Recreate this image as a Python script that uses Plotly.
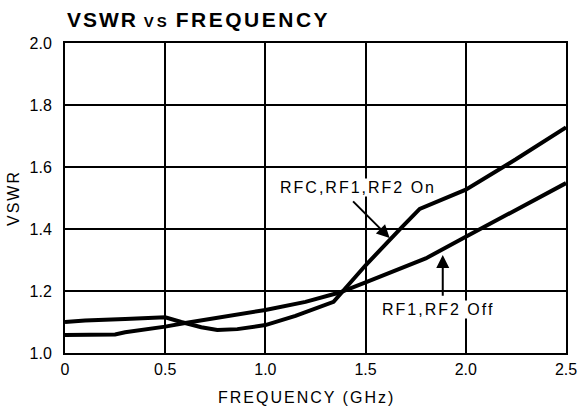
import plotly.graph_objects as go

# ---- data ----
freq_on = [0, 0.1, 0.3, 0.5, 0.58, 0.68, 0.76, 0.86, 1.0, 1.15, 1.34, 1.5, 1.68, 1.77, 2.0, 2.25, 2.5]
vswr_on = [1.10, 1.105, 1.11, 1.115, 1.10, 1.083, 1.074, 1.077, 1.09, 1.12, 1.165, 1.283, 1.405, 1.465, 1.527, 1.625, 1.728]

freq_off = [0, 0.25, 0.3, 0.4, 0.5, 0.6, 0.8, 1.0, 1.2, 1.37, 1.5, 1.8, 2.0, 2.25, 2.5]
vswr_off = [1.058, 1.06, 1.067, 1.075, 1.085, 1.097, 1.117, 1.139, 1.165, 1.195, 1.228, 1.305, 1.375, 1.46, 1.548]

x_tickvals = [0, 0.5, 1.0, 1.5, 2.0, 2.5]
x_ticktext = ["0", "0.5", "1.0", "1.5", "2.0", "2.5"]
y_tickvals = [1.0, 1.2, 1.4, 1.6, 1.8, 2.0]
y_ticktext = ["1.0", "1.2", "1.4", "1.6", "1.8", "2.0"]

FONT = "Liberation Sans, Arial, sans-serif"
W, H = 582, 406
ML, MR, MT, MB = 65, 16, 43, 53

def spaced(t, px):
    return f"<span style='letter-spacing:{px}px'>{t}</span>"

fig = go.Figure()
fig.add_trace(go.Scatter(x=freq_on, y=vswr_on, mode="lines", name="RFC,RF1,RF2 On",
                         line=dict(color="black", width=4), showlegend=False))
fig.add_trace(go.Scatter(x=freq_off, y=vswr_off, mode="lines", name="RF1,RF2 Off",
                         line=dict(color="black", width=4), showlegend=False))

fig.update_layout(
    width=W, height=H,
    margin=dict(l=ML, r=MR, t=MT, b=MB, autoexpand=False),
    paper_bgcolor="white", plot_bgcolor="white",
    font=dict(family=FONT, color="black", size=16),
    title=dict(
        text=spaced("VSWR", 2) + " " + "<span style='font-size:15px;letter-spacing:3px'>VS</span>" + " " + spaced("FREQUENCY", 2.5),
        font=dict(family=FONT, size=21, color="black", weight="bold"),
        xref="container", x=67/W, xanchor="left",
        yref="container", y=1 - 20/H, yanchor="middle",
        pad=dict(l=0, r=0, t=0, b=0),
    ),
    xaxis=dict(
        range=[0, 2.5], tickvals=x_tickvals, ticktext=x_ticktext,
        showgrid=True, gridcolor="black", gridwidth=2,
        showline=True, linecolor="black", linewidth=2, mirror=True,
        zeroline=False, ticks="", ticklabelstandoff=1, automargin=False,
        tickfont=dict(size=16),
    ),
    yaxis=dict(
        range=[1.0, 2.0], tickvals=y_tickvals, ticktext=y_ticktext,
        showgrid=True, gridcolor="black", gridwidth=2,
        showline=True, linecolor="black", linewidth=2, mirror=True,
        zeroline=False, ticks="", ticklabelstandoff=8, automargin=False,
        tickfont=dict(size=16),
    ),
)

PW, PH = W - ML - MR, H - MT - MB
# axis titles
fig.add_annotation(xref="x domain", yref="y domain", x=(306 - ML) / PW, y=(H - MB - 397) / PH,
                   text=spaced("FREQUENCY (GHz)", 2), showarrow=False, font=dict(size=16),
                   xanchor="center", yanchor="middle")
fig.add_annotation(xref="x domain", yref="y domain", x=(13 - ML) / PW, y=0.5,
                   text=spaced("VSWR", 2), textangle=-90, showarrow=False, font=dict(size=16),
                   xanchor="center", yanchor="middle")

# labels with white background
fig.add_annotation(x=1.46, y=1.535, xref="x", yref="y", text=spaced("RFC,RF1,RF2 On", 2),
                   showarrow=False, bgcolor="white", font=dict(size=16), borderpad=0)
fig.add_annotation(x=1.86, y=1.139, xref="x", yref="y", text=spaced("RF1,RF2 Off", 2),
                   showarrow=False, bgcolor="white", font=dict(size=16), borderpad=0)

# arrows
fig.add_annotation(x=1.62, y=1.371, xref="x", yref="y", ax=1.43, ay=1.494, axref="x", ayref="y",
                   text="", showarrow=True, arrowhead=2, arrowsize=1.3, arrowwidth=2, arrowcolor="black")
fig.add_annotation(x=1.885, y=1.316, xref="x", yref="y", ax=1.885, ay=1.18, axref="x", ayref="y",
                   text="", showarrow=True, arrowhead=2, arrowsize=1.3, arrowwidth=2, arrowcolor="black")

fig.write_html("out.html", config={"displayModeBar": False},
               post_script="document.body.style.margin='0';document.body.style.overflow='hidden';")
